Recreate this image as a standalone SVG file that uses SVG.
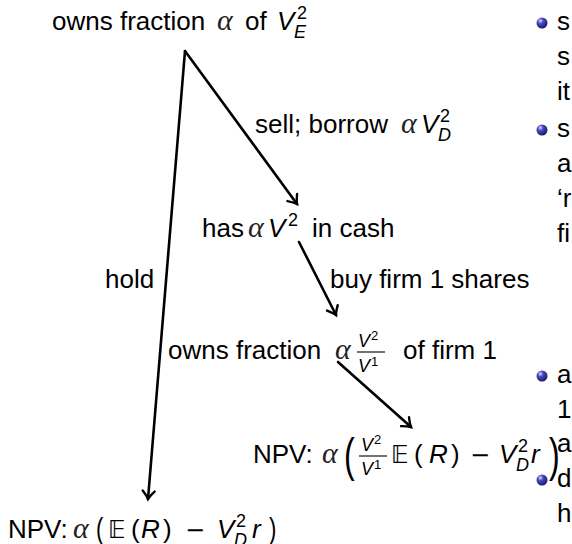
<svg xmlns="http://www.w3.org/2000/svg" width="572" height="544" viewBox="0 0 572 544">
<defs>
<style>
.t{font-family:"Liberation Sans",Arial,sans-serif;font-size:26px;fill:#000}
.i{font-family:"Liberation Sans",Arial,sans-serif;font-style:italic;fill:#000}
.g{font-family:"Liberation Serif","Times New Roman",serif;font-style:italic;font-size:30px;fill:#222}
.bb{font-family:"DejaVu Sans","DejaVu Serif",sans-serif;font-size:24px;fill:#000}
.m{font-family:"DejaVu Sans",sans-serif;font-size:24px;fill:#000}
.s18{font-size:18px}
.s13{font-size:13px}
.e{fill:none;stroke:#000;stroke-width:2.6;stroke-linecap:round;marker-end:url(#ah)}
.bar{stroke:#000;stroke-width:1.1}
.big{font-family:"Liberation Sans",Arial,sans-serif;font-size:46px;fill:#000}
</style>
<marker id="ah" markerUnits="userSpaceOnUse" orient="auto" markerWidth="20" markerHeight="20" viewBox="-10 -10 20 20" refX="0" refY="0" overflow="visible">
<path d="M-8,-6 Q-3,-1.5 0,0 Q-3,1.5 -8,6" fill="none" stroke="#000" stroke-width="2.4" stroke-linecap="round"/>
</marker>
<radialGradient id="ball" cx="0.35" cy="0.3" r="0.75">
<stop offset="0" stop-color="#dadaff"/>
<stop offset="0.35" stop-color="#4a4ac0"/>
<stop offset="1" stop-color="#15155e"/>
</radialGradient>
</defs>
<rect width="572" height="544" fill="#fff"/>

<g id="connectors">
<path class="e" d="M185,51 L148,499"/>
<path class="e" d="M185,51 L297,204"/>
<path class="e" d="M299,242 L336,315"/>
<path class="e" d="M338,362 L411,427"/>
<text class="t" x="105" y="288">hold</text>
<g id="label-sell">
<text class="t" x="255" y="133">sell; borrow</text>
<text class="g" x="401" y="133">α</text>
<text class="i" x="421" y="133" font-size="26">V</text>
<text class="t s18" x="440" y="122">2</text>
<text class="i s18" x="438" y="141">D</text>
</g>
<text class="t" x="330" y="288">buy firm 1 shares</text>
</g>

<g id="node-top">
<text class="t" x="52" y="30">owns fraction</text>
<text class="g" x="217" y="30">α</text>
<text class="t" x="245" y="30">of</text>
<text class="i" x="277" y="30" font-size="26">V</text>
<text class="t s18" x="297" y="19">2</text>
<text class="i s18" x="294" y="38">E</text>
</g>

<g id="node-cash">
<text class="t" x="202" y="237">has</text>
<text class="g" x="248" y="237">α</text>
<text class="i" x="268" y="237" font-size="26">V</text>
<text class="t s18" x="288" y="226">2</text>
<text class="t" x="312" y="237">in cash</text>
</g>

<g id="node-firm1">
<text class="t" x="168" y="359">owns fraction</text>
<text class="g" x="335" y="359">α</text>
<text class="i s18" x="358" y="347">V</text>
<text class="t s13" x="371" y="340">2</text>
<line class="bar" x1="357" y1="352" x2="385" y2="352"/>
<text class="i s18" x="358" y="372">V</text>
<text class="t s13" x="371" y="366">1</text>
<text class="t" x="403" y="359">of firm 1</text>
</g>

<g id="node-npv-buy">
<text class="t" x="253" y="463">NPV:</text>
<text class="g" x="322" y="463">α</text>
<text class="big" transform="translate(344,471) scale(0.7,1)">(</text>
<text class="i s18" x="361" y="451">V</text>
<text class="t s13" x="374" y="444">2</text>
<line class="bar" x1="359" y1="456" x2="387" y2="456"/>
<text class="i s18" x="361" y="475">V</text>
<text class="t s13" x="374" y="469">1</text>
<text class="bb" x="391" y="463">𝔼</text>
<text class="t" x="414" y="463">(</text>
<text class="i" x="429" y="463" font-size="26">R</text>
<text class="t" x="451" y="463">)</text>
<text class="m" x="470" y="463">−</text>
<text class="i" x="499" y="463" font-size="26">V</text>
<text class="t s18" x="518" y="452">2</text>
<text class="i s18" x="516" y="471">D</text>
<text class="i" x="531" y="463" font-size="26">r</text>
<text class="big" transform="translate(549,471) scale(0.7,1)">)</text>
</g>

<g id="node-npv-hold">
<text class="t" x="8" y="538">NPV:</text>
<text class="g" x="73" y="538">α</text>
<text class="t" transform="translate(96,539) scale(0.85,1.15)">(</text>
<text class="bb" x="108" y="538">𝔼</text>
<text class="t" x="131" y="538">(</text>
<text class="i" x="141" y="538" font-size="26">R</text>
<text class="t" x="163" y="538">)</text>
<text class="m" x="185" y="538">−</text>
<text class="i" x="217" y="538" font-size="26">V</text>
<text class="t s18" x="236" y="527">2</text>
<text class="i s18" x="234" y="546">D</text>
<text class="i" x="252" y="538" font-size="26">r</text>
<text class="t" transform="translate(269,539) scale(0.85,1.15)">)</text>
</g>

<g id="slide-bullets">
<circle cx="542" cy="23" r="5.5" fill="url(#ball)"/>
<text class="t" x="557" y="30">s</text>
<text class="t" x="557" y="65">s</text>
<text class="t" x="557" y="100">it</text>
<circle cx="542" cy="130" r="5.5" fill="url(#ball)"/>
<text class="t" x="557" y="137">s</text>
<text class="t" x="557" y="172">a</text>
<text class="t" x="557" y="207">‘r</text>
<text class="t" x="557" y="242">fi</text>
<circle cx="542" cy="376" r="5.5" fill="url(#ball)"/>
<text class="t" x="557" y="383">a</text>
<text class="t" x="557" y="418">1</text>
<text class="t" x="557" y="452">a</text>
<circle cx="542" cy="480" r="5.5" fill="url(#ball)"/>
<text class="t" x="557" y="487">d</text>
<text class="t" x="557" y="522">h</text>
</g>
</svg>
